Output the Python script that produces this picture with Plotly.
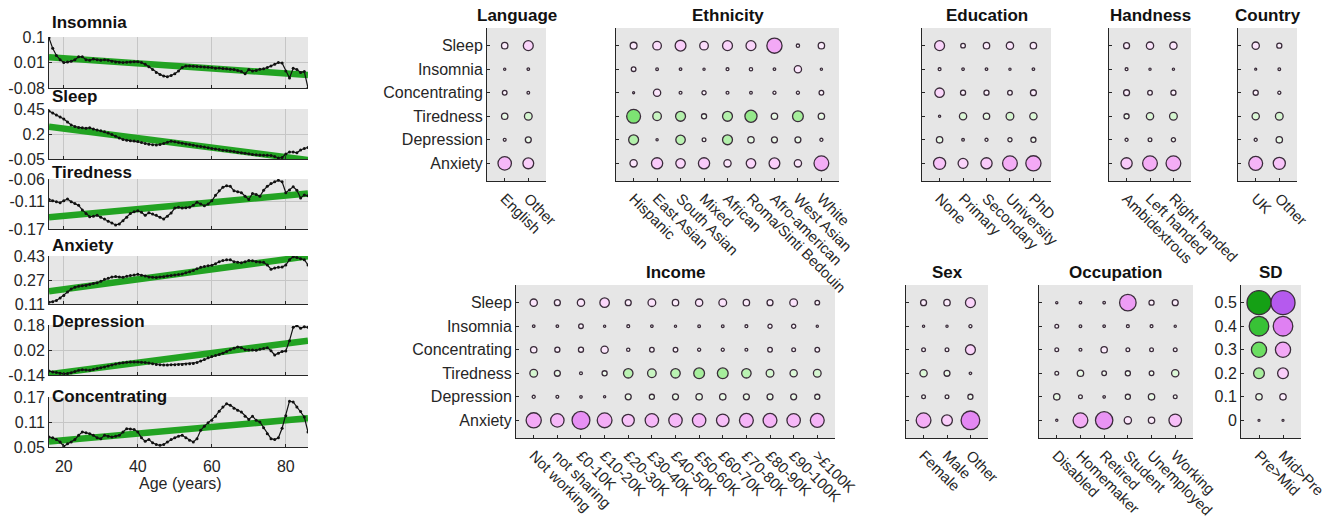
import plotly.graph_objects as go

W, H = 1335, 518
FONT = "Liberation Sans, Arial, Helvetica, sans-serif"
INK = "#262626"
BG = "#e6e6e6"
GRID = "#c6c6c6"
TREND = "#22a322"

# ---------------- age curves (rolling means, one value per year of age) ----------------
ages = list(range(16, 87))

insomnia = [0.097, 0.060, 0.035, 0.020, 0.010, 0.012, 0.014, 0.020, 0.030, 0.030,
            0.020, 0.018, 0.022, 0.020, 0.018, 0.020, 0.018, 0.014, 0.012, 0.011,
            0.010, 0.011, 0.012, 0.013, 0.013, 0.010, 0.004, -0.005, -0.015, -0.025,
            -0.032, -0.038, -0.040, -0.036, -0.030, -0.020, -0.008, -0.002, -0.002, -0.003,
            -0.004, -0.005, -0.006, -0.007, -0.008, -0.010, -0.009, -0.011, -0.012, -0.014,
            -0.015, -0.018, -0.022, -0.030, -0.015, -0.020, -0.018, -0.014, -0.012, -0.008,
            -0.002, 0.004, 0.010, 0.008, -0.020, -0.045, -0.010, -0.015, -0.025, -0.022,
            -0.080]

sleep = [0.430, 0.410, 0.390, 0.370, 0.350, 0.320, 0.290, 0.275, 0.265, 0.262,
         0.258, 0.262, 0.250, 0.240, 0.232, 0.222, 0.210, 0.195, 0.178, 0.160,
         0.145, 0.138, 0.132, 0.130, 0.125, 0.115, 0.105, 0.098, 0.092, 0.090,
         0.095, 0.105, 0.118, 0.128, 0.122, 0.115, 0.108, 0.100, 0.094, 0.088,
         0.080, 0.075, 0.070, 0.062, 0.055, 0.050, 0.045, 0.038, 0.034, 0.030,
         0.024, 0.018, 0.012, 0.008, 0.002, -0.004, -0.008, -0.010, -0.012, -0.012,
         -0.015, -0.025, -0.040, -0.035, 0.000, 0.020, 0.020, 0.012, 0.040, 0.055,
         0.065]

tiredness = [-0.105, -0.108, -0.110, -0.112, -0.108, -0.104, -0.110, -0.114, -0.118, -0.128,
             -0.136, -0.143, -0.142, -0.140, -0.144, -0.148, -0.153, -0.157, -0.161, -0.159,
             -0.152, -0.144, -0.136, -0.132, -0.130, -0.133, -0.140, -0.134, -0.137, -0.140,
             -0.144, -0.148, -0.142, -0.135, -0.124, -0.122, -0.124, -0.123, -0.122, -0.118,
             -0.111, -0.115, -0.119, -0.115, -0.108, -0.096, -0.086, -0.078, -0.075, -0.076,
             -0.086, -0.088, -0.090, -0.098, -0.105, -0.092, -0.094, -0.098, -0.085, -0.076,
             -0.070, -0.066, -0.063, -0.066, -0.090, -0.084, -0.077, -0.085, -0.102, -0.095,
             -0.097]

anxiety = [0.121, 0.125, 0.133, 0.150, 0.167, 0.190, 0.210, 0.222, 0.228, 0.232,
           0.234, 0.240, 0.246, 0.252, 0.262, 0.275, 0.282, 0.290, 0.293, 0.290,
           0.288, 0.295, 0.300, 0.304, 0.308, 0.302, 0.296, 0.290, 0.288, 0.287,
           0.290, 0.292, 0.296, 0.300, 0.303, 0.306, 0.310, 0.318, 0.325, 0.333,
           0.345, 0.355, 0.360, 0.365, 0.368, 0.378, 0.392, 0.400, 0.405, 0.405,
           0.392, 0.388, 0.385, 0.392, 0.400, 0.398, 0.392, 0.390, 0.388, 0.370,
           0.342, 0.350, 0.355, 0.356, 0.370, 0.405, 0.425, 0.420, 0.412, 0.405,
           0.370]

depression = [-0.115, -0.120, -0.124, -0.128, -0.132, -0.130, -0.125, -0.118, -0.110, -0.106,
              -0.108, -0.110, -0.104, -0.098, -0.094, -0.088, -0.082, -0.076, -0.070, -0.065,
              -0.062, -0.058, -0.057, -0.057, -0.056, -0.058, -0.060, -0.063, -0.068, -0.072,
              -0.074, -0.076, -0.076, -0.074, -0.074, -0.072, -0.072, -0.070, -0.068, -0.066,
              -0.060, -0.050, -0.040, -0.030, -0.022, -0.015, -0.008, 0.000, 0.010, 0.022,
              0.032, 0.040, 0.035, 0.022, 0.020, 0.020, 0.018, 0.025, 0.030, 0.035,
              0.015, -0.012, 0.000, 0.010, 0.014, 0.080, 0.165, 0.175, 0.160, 0.168,
              0.165]

concentrating = [0.074, 0.072, 0.068, 0.062, 0.052, 0.058, 0.062, 0.068, 0.078, 0.086,
                 0.084, 0.082, 0.078, 0.072, 0.070, 0.078, 0.076, 0.074, 0.076, 0.078,
                 0.086, 0.094, 0.093, 0.092, 0.086, 0.072, 0.064, 0.068, 0.060, 0.056,
                 0.054, 0.056, 0.062, 0.068, 0.072, 0.076, 0.078, 0.072, 0.066, 0.062,
                 0.070, 0.090, 0.100, 0.108, 0.114, 0.124, 0.136, 0.146, 0.154, 0.150,
                 0.143, 0.138, 0.134, 0.124, 0.116, 0.124, 0.114, 0.110, 0.096, 0.082,
                 0.070, 0.068, 0.072, 0.095, 0.125, 0.160, 0.158, 0.146, 0.135, 0.122,
                 0.086]

# linear trends, value at the first and last age
trend_ages = [16, 86]
insomnia_trend = [0.029, -0.034]
sleep_trend = [0.274, -0.0605]
tiredness_trend = [-0.144, -0.092]
anxiety_trend = [0.194, 0.428]
depression_trend = [-0.135, 0.080]
concentrating_trend = [0.063, 0.119]

insomnia_ticks = [-0.08, 0.01, 0.1]
sleep_ticks = [-0.05, 0.2, 0.45]
tiredness_ticks = [-0.17, -0.11, -0.06]
anxiety_ticks = [0.11, 0.27, 0.43]
depression_ticks = [-0.14, 0.02, 0.18]
concentrating_ticks = [0.05, 0.11, 0.17]
age_ticks = [20, 40, 60, 80]

# ---------------- group effects in SD (+ : Mid>Pre, - : Pre>Mid) ----------------
symptoms = ["Sleep", "Insomnia", "Concentrating", "Tiredness", "Depression", "Anxiety"]

language_cats = ["English", "Other"]
language_sd = [
    [0.10, 0.18],
    [0.005, 0.01],
    [0.06, 0.015],
    [-0.10, -0.13],
    [-0.02, -0.09],
    [0.26, 0.20],
]

ethnicity_cats = ["Hispanic", "East Asian", "South Asian", "Mixed", "African",
                  "Roma/Sinti Bedouin", "Afro-american", "West Asian", "White"]
ethnicity_sd = [
    [0.11, 0.15, 0.20, 0.15, 0.18, 0.18, 0.30, 0.03, 0.10],
    [0.06, 0.015, 0.01, 0.005, 0.02, 0.03, 0.01, 0.12, 0.005],
    [0.0, 0.12, 0.02, 0.05, 0.02, 0.015, 0.025, 0.025, 0.06],
    [-0.27, -0.15, -0.18, -0.07, -0.18, -0.23, -0.10, -0.20, -0.10],
    [-0.18, -0.005, -0.17, -0.04, -0.18, -0.10, -0.09, -0.09, -0.025],
    [0.12, 0.21, 0.17, 0.21, 0.12, 0.17, 0.20, 0.12, 0.29],
]

education_cats = ["None", "Primary", "Secondary", "University", "PhD"]
education_sd = [
    [0.18, 0.06, 0.10, 0.12, 0.10],
    [0.02, 0.01, 0.01, 0.005, 0.01],
    [0.17, 0.07, 0.07, 0.06, 0.09],
    [-0.005, -0.12, -0.10, -0.13, -0.12],
    [-0.10, -0.015, -0.025, -0.05, -0.07],
    [0.23, 0.18, 0.21, 0.29, 0.30],
]

handness_cats = ["Ambidextrous", "Left handed", "Right handed"]
handness_sd = [
    [0.09, 0.12, 0.12],
    [0.02, 0.005, 0.005],
    [0.09, 0.06, 0.07],
    [-0.07, -0.12, -0.13],
    [-0.025, -0.04, -0.05],
    [0.21, 0.29, 0.29],
]

country_cats = ["UK", "Other"]
country_sd = [
    [0.12, 0.07],
    [0.0, 0.015],
    [0.07, 0.025],
    [-0.12, -0.13],
    [-0.025, -0.10],
    [0.27, 0.23],
]

income_cats = ["Not working", "not sharing", "£0-10K", "£10-20K", "£20-30K", "£30-40K",
               "£40-50K", "£50-60K", "£60-70K", "£70-80K", "£80-90K", "£90-100K", ">£100K"]
income_sd = [
    [0.12, 0.09, 0.12, 0.17, 0.09, 0.13, 0.10, 0.12, 0.13, 0.10, 0.09, 0.13, 0.06],
    [0.01, 0.01, 0.06, 0.005, 0.02, 0.01, 0.005, 0.015, 0.015, 0.02, 0.05, 0.05, 0.005],
    [0.10, 0.07, 0.07, 0.12, 0.03, 0.06, 0.06, 0.025, 0.025, 0.02, 0.06, 0.04, 0.06],
    [-0.13, -0.09, -0.02, -0.07, -0.17, -0.15, -0.17, -0.20, -0.20, -0.17, -0.13, -0.12, -0.13],
    [-0.025, -0.02, -0.01, -0.005, -0.09, -0.07, -0.09, -0.10, -0.10, -0.09, -0.09, -0.09, -0.07],
    [0.30, 0.26, 0.36, 0.29, 0.23, 0.26, 0.26, 0.26, 0.24, 0.27, 0.27, 0.26, 0.27],
]

sex_cats = ["Female", "Male", "Other"]
sex_sd = [
    [0.09, 0.10, 0.18],
    [0.005, 0.005, 0.025],
    [0.04, 0.04, 0.18],
    [-0.12, -0.09, -0.01],
    [-0.04, -0.04, -0.07],
    [0.29, 0.20, 0.38],
]

occupation_cats = ["Disabled", "Homemaker", "Retired", "Student", "Unemployed", "Working"]
occupation_sd = [
    [0.005, 0.01, 0.01, 0.33, 0.07, 0.09],
    [0.04, 0.015, 0.01, 0.02, 0.02, 0.005],
    [0.04, 0.02, 0.10, 0.04, 0.04, 0.04],
    [-0.04, -0.10, -0.06, -0.07, -0.06, -0.12],
    [-0.10, -0.04, -0.01, -0.07, -0.10, -0.04],
    [0.005, 0.29, 0.35, 0.12, 0.10, 0.24],
]

# size key
sd_levels = [0.5, 0.4, 0.3, 0.2, 0.1, 0]
sd_cats = ["Pre>Mid", "Mid>Pre"]
sd_key = [[-lv, lv] for lv in sd_levels]


# ---------------- helpers ----------------
def xdom(left, right):
    return [left / W, right / W]


def ydom(top, bottom):
    return [1 - bottom / H, 1 - top / H]


def hex_rgb(h):
    h = h.lstrip("#")
    return tuple(int(h[i:i + 2], 16) for i in (0, 2, 4))


POS_STOPS = [(0.0, "#ffffff"), (0.1, "#fcecfc"), (0.2, "#facefa"), (0.3, "#f3a9f6"),
             (0.4, "#df80f2"), (0.5, "#b55aee")]
NEG_STOPS = [(0.0, "#ffffff"), (0.1, "#e9fae6"), (0.2, "#a6ee9c"), (0.3, "#6cde62"),
             (0.4, "#38c236"), (0.5, "#15a015")]


def bubble_colour(v):
    stops = POS_STOPS if v >= 0 else NEG_STOPS
    a = min(abs(v), 0.5)
    for (p0, c0), (p1, c1) in zip(stops[:-1], stops[1:]):
        if p0 <= a <= p1:
            t = (a - p0) / (p1 - p0)
            r0, g0, b0 = hex_rgb(c0)
            r1, g1, b1 = hex_rgb(c1)
            return "rgb(%d,%d,%d)" % (round(r0 + t * (r1 - r0)),
                                      round(g0 + t * (g1 - g0)),
                                      round(b0 + t * (b1 - b0)))
    return stops[-1][1]


def bubble_size(v):
    return 2 + 44 * abs(v)


fig = go.Figure()
layout = {}
annotations = []
axis_font = dict(family=FONT, size=16, color=INK)
cat_font = dict(family=FONT, size=15, color=INK)
common_axis = dict(automargin=False, fixedrange=True, zeroline=False, showline=True,
                   linecolor=INK, linewidth=1, ticks="inside", ticklen=3, tickcolor=INK)


def title(text, x, y, anchor="center"):
    annotations.append(dict(text="<b>%s</b>" % text, x=x / W, y=1 - y / H, xref="paper",
                            yref="paper", xanchor=anchor, yanchor="middle", showarrow=False,
                            font=dict(family=FONT, size=17, color="#111111")))


# ---------------- age panels ----------------
age_panels = [
    ("Insomnia", insomnia, insomnia_trend, insomnia_ticks, (37, 88), 22),
    ("Sleep", sleep, sleep_trend, sleep_ticks, (109, 159), 97),
    ("Tiredness", tiredness, tiredness_trend, tiredness_ticks, (179, 229), 172),
    ("Anxiety", anxiety, anxiety_trend, anxiety_ticks, (256, 304), 246),
    ("Depression", depression, depression_trend, depression_ticks, (325, 375), 321),
    ("Concentrating", concentrating, concentrating_trend, concentrating_ticks, (397, 447), 396),
]

n = 0
for i, (name, series, trend, ticks, (top, bottom), ty) in enumerate(age_panels):
    n += 1
    xa, ya = "x%d" % n, "y%d" % n
    last = i == len(age_panels) - 1
    layout["xaxis%d" % n] = dict(
        domain=xdom(49, 308), anchor=ya, range=[16, 86], tickvals=age_ticks,
        showticklabels=last, ticklabelstandoff=5, showgrid=True, gridcolor=GRID,
        gridwidth=1, tickfont=axis_font, **common_axis)
    layout["yaxis%d" % n] = dict(
        domain=ydom(top, bottom), anchor=xa, range=[ticks[0], ticks[-1]], tickvals=ticks,
        ticktext=[("%g" % t) for t in ticks], showgrid=True, gridcolor=GRID, gridwidth=1,
        tickfont=axis_font, **common_axis)
    fig.add_trace(go.Scatter(x=trend_ages, y=trend, mode="lines", xaxis=xa, yaxis=ya,
                             line=dict(color=TREND, width=6.5), hoverinfo="skip"))
    fig.add_trace(go.Scatter(x=ages, y=series, mode="lines+markers", xaxis=xa, yaxis=ya,
                             line=dict(color="#111111", width=1.2),
                             marker=dict(size=3, color="#111111")))
    title(name, 50, ty, anchor="left")

annotations.append(dict(text="Age (years)", x=180 / W, y=1 - 483 / H, xref="paper",
                        yref="paper", xanchor="center", yanchor="middle", showarrow=False,
                        font=axis_font))

# ---------------- bubble panels ----------------
bubble_panels = [
    ("Language", language_cats, language_sd, (487, 546, 28, 181), symptoms),
    ("Ethnicity", ethnicity_cats, ethnicity_sd, (616, 839, 28, 181), None),
    ("Education", education_cats, education_sd, (922, 1051, 28, 181), None),
    ("Handness", handness_cats, handness_sd, (1109, 1191, 28, 181), None),
    ("Country", country_cats, country_sd, (1238, 1297, 28, 181), None),
    ("Income", income_cats, income_sd, (516, 835, 285, 438), symptoms),
    ("Sex", sex_cats, sex_sd, (906, 988, 285, 438), None),
    ("Occupation", occupation_cats, occupation_sd, (1039, 1193, 285, 438), None),
    ("SD", sd_cats, sd_key, (1241, 1301, 285, 438), [("%g" % lv) for lv in sd_levels]),
]

for name, cats, grid, (left, right, top, bottom), row_labels in bubble_panels:
    n += 1
    xa, ya = "x%d" % n, "y%d" % n
    ncol = len(cats)
    layout["xaxis%d" % n] = dict(
        domain=xdom(left, right), anchor=ya, range=[-0.75, ncol - 0.25],
        tickvals=list(range(ncol)), ticktext=cats, tickangle=45, showgrid=False,
        ticklabelstandoff=2, tickfont=cat_font, **common_axis)
    layout["yaxis%d" % n] = dict(
        domain=ydom(top, bottom), anchor=xa, range=[5.75, -0.75],
        tickvals=list(range(len(symptoms))), ticktext=row_labels or [""] * len(symptoms),
        showticklabels=row_labels is not None, showgrid=False, tickfont=axis_font,
        **common_axis)
    xs, ys, sizes, colours = [], [], [], []
    for r, row in enumerate(grid):
        for c, v in enumerate(row):
            xs.append(c)
            ys.append(r)
            sizes.append(bubble_size(v))
            colours.append(bubble_colour(v))
    fig.add_trace(go.Scatter(x=xs, y=ys, mode="markers", xaxis=xa, yaxis=ya,
                             marker=dict(size=sizes, color=colours, opacity=1,
                                         line=dict(color="#3a2c3a", width=1.3)),
                             text=[f"{v:+.3f}" for row in grid for v in row],
                             hovertemplate="%{text}<extra></extra>"))
    title(name, (left + right) / 2, 15 if top < 100 else 272)

layout.update(dict(
    width=W, height=H, margin=dict(l=0, r=0, t=0, b=0, autoexpand=False), autosize=False,
    paper_bgcolor="white", plot_bgcolor=BG, showlegend=False,
    font=dict(family=FONT, size=16, color=INK), annotations=annotations,
))
fig.update_layout(**layout)
fig.write_html("out.html")
